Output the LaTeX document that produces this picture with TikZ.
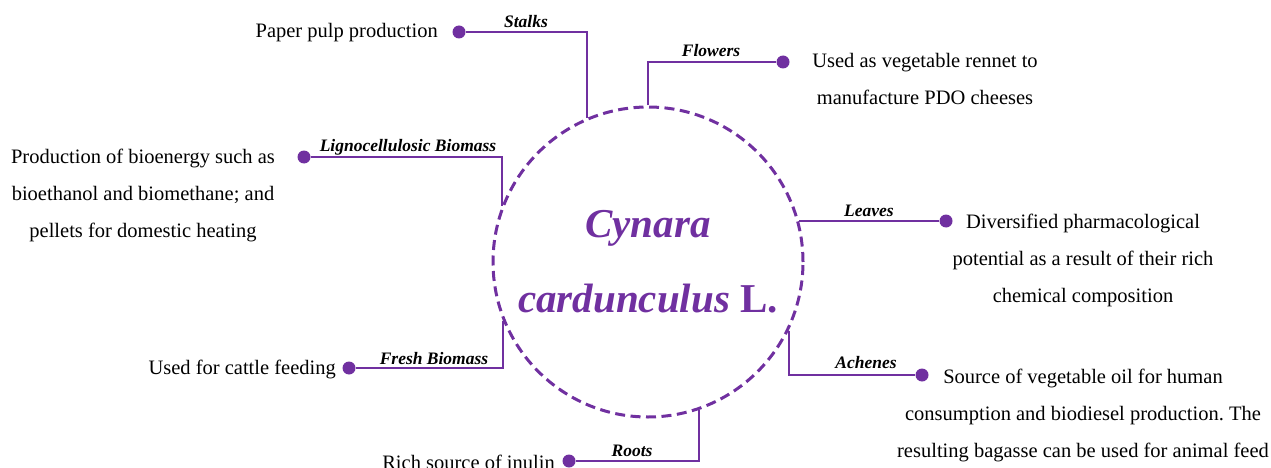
\documentclass[tikz,border=0pt]{standalone}
\usepackage{fontspec}
\setmainfont{Liberation Serif}
\frenchspacing
\definecolor{cpurple}{HTML}{7030A0}
\begin{document}
\begin{tikzpicture}[x=1pt,y=-1pt,
  conn/.style={draw=cpurple, line width=2pt},
  dot/.style={circle, fill=cpurple, inner sep=0pt, minimum size=13pt},
  lab/.style={font=\fontsize{17.5}{20}\selectfont\bfseries\itshape, anchor=base, inner sep=0pt},
  desc/.style={font=\fontsize{20.5}{37}\selectfont, inner sep=0pt, align=center},
]
\useasboundingbox (0,0) rectangle (1271,468);
\node[circle, draw=cpurple, line width=3pt, dash pattern=on 10pt off 5.5pt,
  minimum size=310pt, inner sep=0pt, text=cpurple, align=center,
  font=\fontsize{41}{75}\selectfont\bfseries] (c) at (648,262)
  {\textit{Cynara}\\\textit{cardunculus} L.};

\node[dot] (d1) at (459,32) {};
\node[dot] (d2) at (783,62) {};
\node[dot] (d3) at (946,221) {};
\node[dot] (d4) at (922,375) {};
\node[dot] (d5) at (569,461) {};
\node[dot] (d6) at (349,368) {};
\node[dot] (d7) at (304,157) {};

\draw[conn] (d1) -| (c.113.6);
\draw[conn] (c.90) |- (d2);
\draw[conn] (d3) -- (d3 -| c.15.3);
\draw[conn] (c.-26.3) |- (d4);
\draw[conn] (c.-71.2) |- (d5);
\draw[conn] (d6) -| (c.202.7);
\draw[conn] (d7) -| (c.159.3);

\node[lab] (l1) at (526,28) {Stalks};
\node[lab] (l2) at (711,57) {Flowers};
\node[lab] (l3) at (869,216) {Leaves};
\node[lab] (l4) at (866,368) {Achenes};
\node[lab] (l5) at (632,456) {Roots};
\node[lab] (l6) at (434,364) {Fresh Biomass};
\node[lab] (l7) at (408,151) {Lignocellulosic Biomass};

\node[desc, anchor=east] (t1) at (438,32.5) {Paper pulp production};
\node[desc] (t2) at (925,79) {Used as vegetable rennet to\\manufacture PDO cheeses};
\node[desc] (t3) at (1083,260) {Diversified pharmacological\\potential as a result of their rich\\chemical composition};
\node[desc] (t4) at (1083,415) {Source of vegetable oil for human\\consumption and biodiesel production. The\\resulting bagasse can be used for animal feed};
\node[desc, anchor=east] (t5) at (555,462.5) {Rich source of inulin};
\node[desc, anchor=east] (t6) at (336,369.5) {Used for cattle feeding};
\node[desc] (t7) at (143,195) {Production of bioenergy such as\\bioethanol and biomethane; and\\pellets for domestic heating};
\end{tikzpicture}
\end{document}
